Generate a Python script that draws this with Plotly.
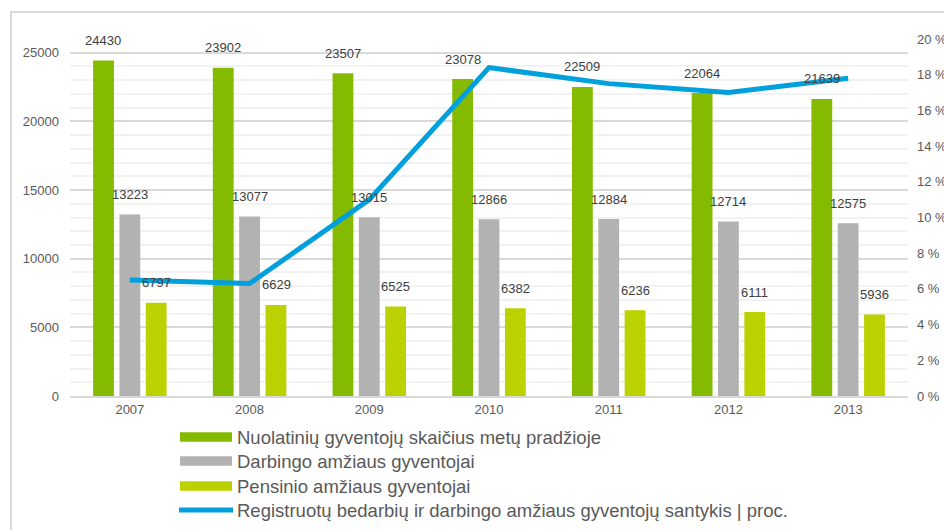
import plotly.graph_objects as go

# Chart data
years = ['2007', '2008', '2009', '2010', '2011', '2012', '2013']
residents = [24430, 23902, 23507, 23078, 22509, 22064, 21639]
working_age = [13223, 13077, 13015, 12866, 12884, 12714, 12575]
pension_age = [6797, 6629, 6525, 6382, 6236, 6111, 5936]
unemployment_ratio = [6.5, 6.3, 11.0, 18.4, 17.5, 17.0, 17.8]

names = [
    'Nuolatinių gyventojų skaičius metų pradžioje',
    'Darbingo amžiaus gyventojai',
    'Pensinio amžiaus gyventojai',
    'Registruotų bedarbių ir darbingo amžiaus gyventojų santykis | proc.',
]
colors = ['#84bb00', '#b2b2b2', '#bcd200', '#00a0dc']

FONT = 'Arial, Liberation Sans, sans-serif'

# figure fills the whole window (body margin is removed in write_html below)
W, H = 944, 530
L, T = 70, 39
R = W - 908
B = H - 396
pw, ph = W - L - R, H - T - B


# helpers: window pixel -> paper coords (only for the hand-made legend and frame)
def px_x(x):
    return (x - L) / pw


def px_y(y):
    return (H - B - y) / ph


fig = go.Figure()

bar_series = [residents, working_age, pension_age]
for vals, name, color in zip(bar_series, names[:3], colors[:3]):
    fig.add_trace(go.Bar(x=years, y=vals, name=name, marker_color=color,
                         marker_line_width=0, showlegend=False))

fig.add_trace(go.Scatter(x=years, y=unemployment_ratio, name=names[3], yaxis='y2',
                         mode='lines', line=dict(color=colors[3], width=5),
                         showlegend=False))

# value labels above the bars (x as category index)
shifts = [-26.5, 0, 26.5]
for vals, shift in zip(bar_series, shifts):
    for i, v in enumerate(vals):
        fig.add_annotation(x=i, y=v, text=str(v), showarrow=False, xshift=shift,
                           yshift=20, yanchor='middle',
                           font=dict(family=FONT, size=13, color='#404040'))

# legend drawn by hand so the bar keys are wide rectangles
row_y = [437, 461, 486, 510]
for i, (name, color) in enumerate(zip(names, colors)):
    yc = row_y[i]
    if i < 3:
        fig.add_shape(type='rect', xref='paper', yref='paper',
                      x0=px_x(180), x1=px_x(232), y0=px_y(yc - 4.7), y1=px_y(yc + 4.7),
                      fillcolor=color, line_width=0)
    else:
        fig.add_shape(type='line', xref='paper', yref='paper',
                      x0=px_x(179), x1=px_x(233), y0=px_y(yc), y1=px_y(yc),
                      line=dict(color=color, width=5))
    fig.add_annotation(xref='paper', yref='paper', x=px_x(235), y=px_y(yc),
                       xanchor='left', yanchor='middle', text=name, showarrow=False,
                       font=dict(family=FONT, size=18.5, color='#595959'))

# outer frame
fig.add_shape(type='rect', xref='paper', yref='paper',
              x0=px_x(11), x1=px_x(990), y0=px_y(580), y1=px_y(12),
              line=dict(color='#d9d9d9', width=2), fillcolor='rgba(0,0,0,0)', layer='below')

fig.update_layout(
    width=W, height=H,
    margin=dict(l=L, r=R, t=T, b=B, autoexpand=False),
    paper_bgcolor='white', plot_bgcolor='white',
    barmode='group', bargap=0.34, bargroupgap=0.21,
    font=dict(family=FONT, size=13, color='#595959'),
    xaxis=dict(type='category', range=[-0.5, 6.5], showgrid=False, showline=True,
               linecolor='#d9d9d9', linewidth=2, ticks='', automargin=False,
               tickfont=dict(size=13, color='#595959')),
    yaxis=dict(range=[0, 26000], tickvals=[0, 5000, 10000, 15000, 20000, 25000],
               showgrid=True, gridcolor='#d9d9d9', gridwidth=2, zeroline=False,
               ticks='', ticklabelstandoff=10, tickformat='d', automargin=False,
               minor=dict(dtick=1000, tick0=0, showgrid=True, gridcolor='#f2f2f2', gridwidth=2),
               tickfont=dict(size=13, color='#595959')),
    yaxis2=dict(range=[0, 20], dtick=2, overlaying='y', side='right', showgrid=False,
                zeroline=False, ticks='', ticksuffix=' %', ticklabelstandoff=8,
                automargin=False, tickfont=dict(size=13, color='#595959')),
    showlegend=False,
)

fig.write_html("out.html", config={'displayModeBar': False},
               post_script="document.body.style.margin = '0';")
